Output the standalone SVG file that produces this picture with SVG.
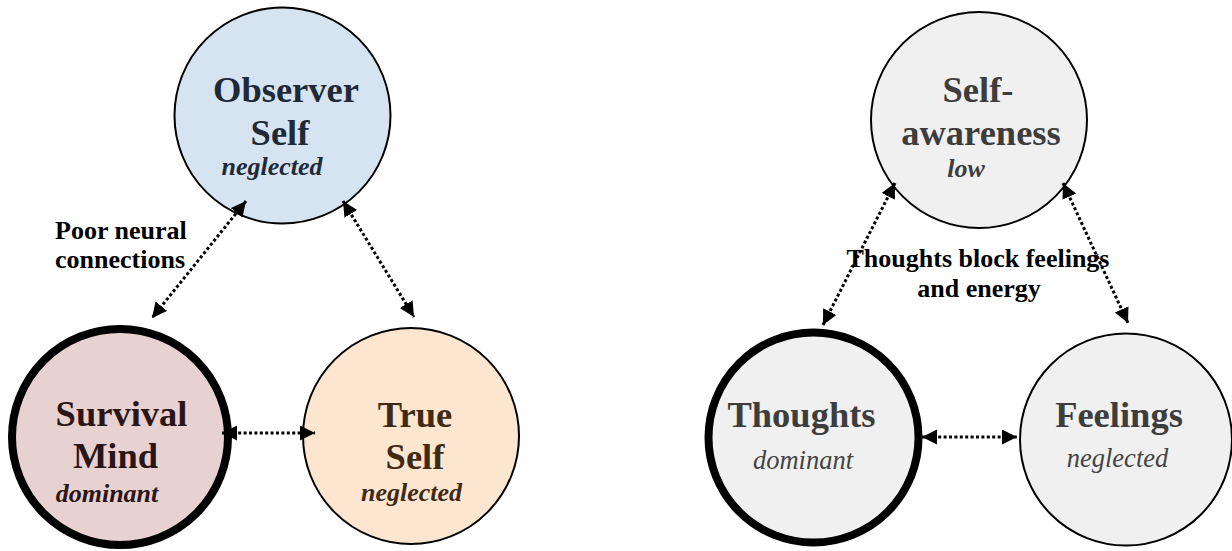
<svg xmlns="http://www.w3.org/2000/svg" width="1232" height="551" viewBox="0 0 1232 551">
<defs>
<style>
.title{font-family:"Liberation Serif","Times New Roman",serif;font-weight:bold;font-size:36.5px;text-anchor:middle}
.sub{font-family:"Liberation Serif","Times New Roman",serif;font-style:italic;font-weight:bold;font-size:26px;text-anchor:middle}
.subr{font-family:"Liberation Serif","Times New Roman",serif;font-style:italic;font-size:26.5px;text-anchor:middle;fill:#444444}
.lbl{font-family:"Liberation Serif","Times New Roman",serif;font-weight:bold;font-size:26px;fill:#000}
.thin{stroke:#000;stroke-width:2}
.thick{stroke:#000;stroke-width:8}
.conn{stroke:#000;stroke-width:3;stroke-dasharray:3 2.4;fill:none;marker-start:url(#ah);marker-end:url(#ah)}
</style>
<marker id="ah" markerUnits="userSpaceOnUse" markerWidth="16" markerHeight="16" refX="15" refY="7.5" orient="auto-start-reverse">
<path d="M0,0 L15,7.5 L0,15 z" fill="#000"/>
</marker>
</defs>

<g id="observer-self">
<circle class="thin" cx="282.5" cy="115.5" r="108" fill="#d6e3f0"/>
<text class="title" x="286" y="102" fill="#1e2a38">Observer</text>
<text class="title" x="280" y="145" fill="#1e2a38">Self</text>
<text class="sub" x="272" y="175" fill="#1e2a38">neglected</text>
</g>

<g id="survival-mind">
<circle class="thick" cx="120" cy="437" r="108" fill="#e8d1d1"/>
<text class="title" x="121.5" y="426" fill="#2a1616">Survival</text>
<text class="title" x="115.5" y="468" fill="#2a1616">Mind</text>
<text class="sub" x="107" y="502" fill="#2a1616">dominant</text>
</g>

<g id="true-self">
<circle class="thin" cx="411" cy="436" r="108" fill="#fde6cf"/>
<text class="title" x="415" y="427" fill="#3f2a16">True</text>
<text class="title" x="415" y="469" fill="#3f2a16">Self</text>
<text class="sub" x="411.5" y="501" fill="#3f2a16">neglected</text>
</g>

<g id="self-awareness">
<circle class="thin" cx="979" cy="120" r="108" fill="#f0f0f0"/>
<text class="title" x="978" y="102" fill="#3d3d3d">Self-</text>
<text class="title" x="981" y="145" fill="#3d3d3d">awareness</text>
<text class="sub" x="966" y="177" fill="#3d3d3d">low</text>
</g>

<g id="thoughts">
<circle class="thick" cx="813.5" cy="437.5" r="105" fill="#f0f0f0"/>
<text class="title" x="801.5" y="427" fill="#3d3d3d">Thoughts</text>
<text class="subr" x="803" y="469">dominant</text>
</g>

<g id="feelings">
<circle class="thin" cx="1126" cy="439.5" r="106" fill="#f0f0f0"/>
<text class="title" x="1119" y="427" fill="#3d3d3d">Feelings</text>
<text class="subr" x="1117.5" y="467">neglected</text>
</g>

<g id="connectors">
<line class="conn" x1="246" y1="201" x2="152" y2="318"/>
<line class="conn" x1="343" y1="201" x2="414" y2="317"/>
<line class="conn" x1="222" y1="433" x2="315" y2="433"/>
<line class="conn" x1="895" y1="183" x2="823" y2="325"/>
<line class="conn" x1="1063" y1="183" x2="1128" y2="323"/>
<line class="conn" x1="922" y1="437" x2="1017" y2="437"/>
<text class="lbl" x="55" y="239">Poor neural</text>
<text class="lbl" x="55" y="268">connections</text>
<text class="lbl" x="978" y="267" text-anchor="middle">Thoughts block feelings</text>
<text class="lbl" x="979" y="297" text-anchor="middle">and energy</text>
</g>
</svg>
